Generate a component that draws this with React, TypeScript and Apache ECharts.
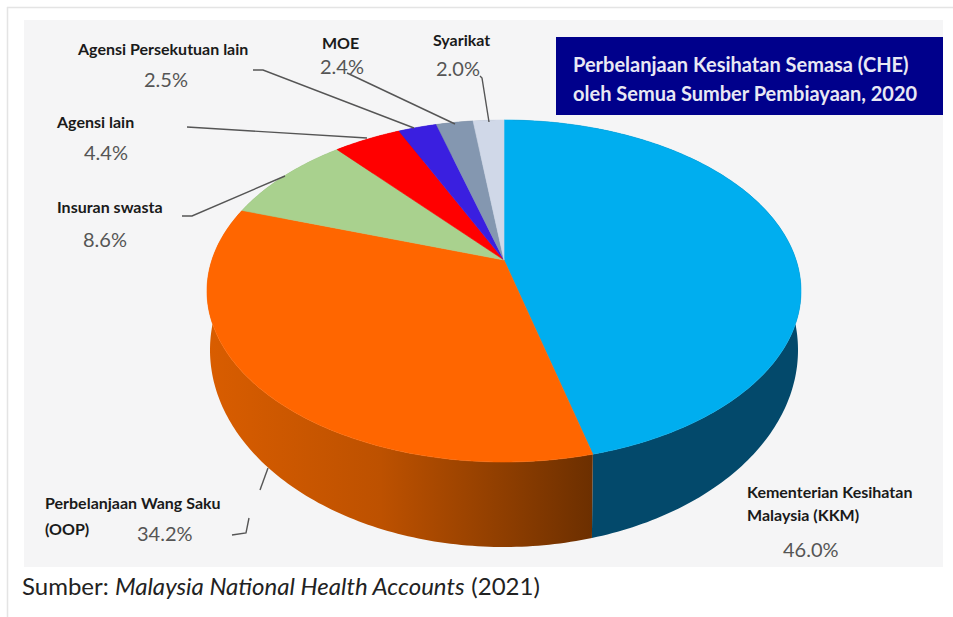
import React, { useEffect, useRef } from "react";
import * as echarts from "echarts";

const categories = ["Kementerian Kesihatan Malaysia (KKM)", "Perbelanjaan Wang Saku (OOP)", "Insuran swasta", "Agensi lain", "Agensi Persekutuan lain", "MOE", "Syarikat"];
const shares = [46.0, 34.2, 8.6, 4.4, 2.5, 2.4, 2.0];
const topColors = ["#00aeef", "#ff6600", "#a9d18e", "#ff0000", "#3a1fe0", "#8497b0", "#d0d8e8"];
const wallColors = ["#03496b", "#b34d00", "#7f9d6a", "#b30000", "#2a1699", "#5d6a7c", "#9aa1ad"];

const CX = 504, CY = 291, RX = 297, RY = 171;
const AX = 504, AY = 260, K = 0.568;
const BCY = 350, BRY = 197, BRX = 294;
const total = shares.reduce((a, b) => a + b, 0);

function rimParam(pct: number) {
  const phi = (pct / total) * Math.PI * 2;
  const dx = Math.sin(phi), dy = -K * Math.cos(phi);
  const px = (AX - CX) / RX, py = (AY - CY) / RY;
  const qx = dx / RX, qy = dy / RY;
  const a = qx * qx + qy * qy, b = 2 * (px * qx + py * qy), c = px * px + py * py - 1;
  const t = (-b + Math.sqrt(b * b - 4 * a * c)) / (2 * a);
  return { ux: px + t * qx, uy: py + t * qy };
}

function sliceRange(i: number) {
  let start = 0;
  for (let j = 0; j < i; j++) start += shares[j];
  return [start, start + shares[i]];
}

function rimSamples(i: number) {
  const [s, e] = sliceRange(i);
  const n = Math.max(8, Math.round(shares[i] * 4));
  const out: { ux: number; uy: number }[] = [];
  for (let k = 0; k <= n; k++) out.push(rimParam(s + ((e - s) * k) / n));
  return out;
}

const oopWall = new echarts.graphic.LinearGradient(0, 0, 1, 0, [
  { offset: 0, color: "#d95d00" },
  { offset: 0.45, color: "#bd5100" },
  { offset: 0.8, color: "#8a3c00" },
  { offset: 1, color: "#6c2f00" },
]);

function renderWall(params: any) {
  const i = params.dataIndex;
  const r = rimSamples(i);
  const top = r.map((p) => [CX + RX * p.ux, CY + RY * p.uy]);
  const bot = r.map((p) => [CX + BRX * p.ux, BCY + BRY * p.uy]).reverse();
  const fill = i === 1 ? oopWall : wallColors[i];
  return { type: "polygon", shape: { points: top.concat(bot) }, style: { fill } };
}

function renderTop(params: any) {
  const i = params.dataIndex;
  const pts = rimSamples(i).map((p) => [CX + RX * p.ux, CY + RY * p.uy]);
  return {
    type: "polygon",
    shape: { points: [[AX, AY], ...pts] },
    style: { fill: topColors[i], stroke: topColors[i], lineWidth: 0.6 },
  };
}

const nameFont = { fontFamily: "Lato", fontWeight: 700, fontSize: 16, fill: "#1a1a1a" };
const pctFont = { fontFamily: "Lato", fontWeight: 400, fontSize: 20, fill: "#555555" };

const label = (text: string, x: number, y: number, style: any) => ({
  type: "text", x, y, z: 100, style: { text, textVerticalAlign: "middle", ...style },
});
const lead = (points: number[][]) => ({
  type: "polyline", z: 90, shape: { points }, style: { stroke: "#555555", lineWidth: 1.4, fill: "none" },
});

export default function App() {
  const ref = useRef<HTMLDivElement>(null);
  useEffect(() => {
    const chart = echarts.init(ref.current!, null, { renderer: "svg" });
    chart.setOption({
      animation: false,
      backgroundColor: "#ffffff",
      title: {
        text: "Perbelanjaan Kesihatan Semasa (CHE)\noleh Semua Sumber Pembiayaan, 2020",
        left: 573,
        top: 49,
        padding: 0,
        z: 50,
        textStyle: { color: "#e8e8f4", fontFamily: "Lato", fontWeight: 700, fontSize: 20, lineHeight: 29 },
      },
      graphic: [
        { type: "line", z: -1, shape: { x1: 7, y1: 7.5, x2: 953, y2: 7.5 }, style: { stroke: "#e4e4e4", lineWidth: 1.5 } },
        { type: "line", z: -1, shape: { x1: 7.5, y1: 7, x2: 7.5, y2: 617 }, style: { stroke: "#e4e4e4", lineWidth: 1.5 } },
        { type: "rect", z: -1, shape: { x: 24, y: 20, width: 919, height: 547 }, style: { fill: "#f5f5f6" } },
        { type: "rect", z: 1, shape: { x: 556, y: 37, width: 387, height: 78 }, style: { fill: "#00008b" } },
        lead([[253, 70], [263, 70], [414, 128]]),
        lead([[347, 73], [455, 124]]),
        lead([[480, 76], [482, 78], [489, 122]]),
        lead([[187, 127], [367, 138]]),
        lead([[182, 216], [192, 216], [285, 176]]),
        lead([[268, 468], [260, 490]]),
        lead([[249, 518], [246, 533], [232, 535]]),
        label("Agensi Persekutuan lain", 78, 48, nameFont),
        label("2.5%", 144, 79, pctFont),
        label("MOE", 322, 42, nameFont),
        label("2.4%", 320, 66, pctFont),
        label("Syarikat", 433, 39, nameFont),
        label("2.0%", 436, 68, pctFont),
        label("Agensi lain", 57, 121, nameFont),
        label("4.4%", 84, 152, pctFont),
        label("Insuran swasta", 57, 206, nameFont),
        label("8.6%", 83, 239, pctFont),
        label("Perbelanjaan Wang Saku", 45, 502, nameFont),
        label("(OOP)", 45, 528, nameFont),
        label("34.2%", 137, 533, pctFont),
        label("Kementerian Kesihatan", 747, 491, nameFont),
        label("Malaysia (KKM)", 747, 514, nameFont),
        label("46.0%", 783, 549, pctFont),
        {
          type: "text", x: 22, y: 585, z: 100,
          style: {
            text: "{a|Sumber: }{b|Malaysia National Health Accounts}{a| (2021)}",
            textVerticalAlign: "middle",
            rich: {
              a: { fontFamily: "Lato", fontSize: 24, fill: "#222222" },
              b: { fontFamily: "Lato", fontSize: 24, fontStyle: "italic", fill: "#222222" },
            },
          },
        },
      ],
      series: [
        { type: "custom", name: "wall", coordinateSystem: "none", z: 2, silent: true, data: categories.map((name, i) => ({ name, value: shares[i] })), renderItem: renderWall },
        { type: "custom", name: "top", coordinateSystem: "none", z: 3, silent: true, data: categories.map((name, i) => ({ name, value: shares[i] })), renderItem: renderTop },
      ],
    });
    return () => chart.dispose();
  }, []);
  return <div ref={ref} style={{ position: "fixed", left: 0, top: 0, width: 953, height: 617 }} />;
}
